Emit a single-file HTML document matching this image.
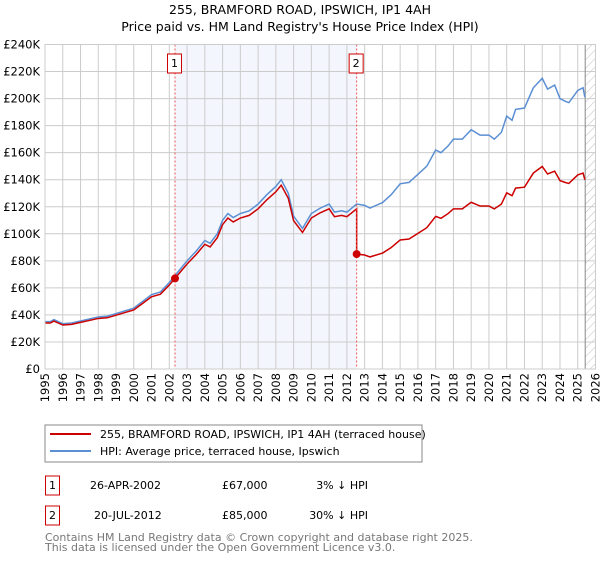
<!DOCTYPE html>
<html><head><meta charset="utf-8"><style>
body{margin:0;background:#fff;font-family:"Liberation Sans","DejaVu Sans",sans-serif;}
svg text{font-family:"DejaVu Sans","Liberation Sans",sans-serif;}
</style></head><body>
<svg id="c" width="600" height="560" xmlns="http://www.w3.org/2000/svg">
<text x="300" y="14" text-anchor="middle" font-size="12.5">255, BRAMFORD ROAD, IPSWICH, IP1 4AH</text>
<text x="300" y="31" text-anchor="middle" font-size="12.5">Price paid vs. HM Land Registry's House Price Index (HPI)</text>
<g id="plot"></g>
<rect x="45" y="425" width="377" height="37" fill="#fff" stroke="#888"/>
<line x1="50" y1="434" x2="91" y2="434" stroke="#cc0000" stroke-width="2"/>
<text x="100" y="438" font-size="11">255, BRAMFORD ROAD, IPSWICH, IP1 4AH (terraced house)</text>
<line x1="50" y1="451" x2="91" y2="451" stroke="#5b8fd4" stroke-width="2"/>
<text x="100" y="455" font-size="11">HPI: Average price, terraced house, Ipswich</text>
<rect x="45.5" y="476" width="14" height="19" fill="none" stroke="#cc0000"/>
<text x="52.5" y="489" text-anchor="middle" font-size="11">1</text>
<text x="90" y="489" font-size="11">26-APR-2002</text>
<text x="222" y="489" font-size="11">£67,000</text>
<text x="368" y="489" text-anchor="end" font-size="11">3% ↓ HPI</text>
<rect x="45.5" y="506" width="14" height="19" fill="none" stroke="#cc0000"/>
<text x="52.5" y="519" text-anchor="middle" font-size="11">2</text>
<text x="94" y="519" font-size="11">20-JUL-2012</text>
<text x="222" y="519" font-size="11">£85,000</text>
<text x="368" y="519" text-anchor="end" font-size="11">30% ↓ HPI</text>
<text x="45" y="541" font-size="11" fill="#777">Contains HM Land Registry data © Crown copyright and database right 2025.</text>
<text x="45" y="551" font-size="11" fill="#777">This data is licensed under the Open Government Licence v3.0.</text>
</svg>
<script>
const hpiYears=[1995,1995.3,1995.5,1996,1996.5,1997,1997.5,1998,1998.5,1999,1999.5,2000,2000.5,2001,2001.5,2002,2002.32,2002.5,2003,2003.5,2004,2004.3,2004.7,2005,2005.3,2005.6,2006,2006.5,2007,2007.5,2008,2008.3,2008.7,2009,2009.5,2010,2010.5,2011,2011.3,2011.7,2012,2012.55,2013,2013.3,2014,2014.5,2015,2015.5,2016,2016.5,2017,2017.3,2017.7,2018,2018.5,2019,2019.5,2020,2020.3,2020.7,2021,2021.3,2021.5,2022,2022.5,2023,2023.3,2023.7,2024,2024.3,2024.5,2025,2025.3,2025.4];
const hpiValues=[35,35,36.5,33.5,34,35.5,37,38.5,39,41,43,45,50,55,57,64,69,72,80,87,95,93,100,110,115,112,115,117,122,129,135,140,130,113,104,115,119,122,116,117,116,122,121,119,123,129,137,138,144,150,162,160,165,170,170,177,173,173,170,175,187,184,192,193,208,215,207,210,200,198,197,206,208,201];
const saleYears=[2002.32,2012.55];
const salePrices=[67,85];
const saleLabels=["1","2"];
const yTicks=[0,20,40,60,80,100,120,140,160,180,200,220,240];
const xTicks=[1995,1996,1997,1998,1999,2000,2001,2002,2003,2004,2005,2006,2007,2008,2009,2010,2011,2012,2013,2014,2015,2016,2017,2018,2019,2020,2021,2022,2023,2024,2025,2026];
const X0=45,X1=595.5,Y0=369,Y1=44.5;
const xs=y=>X0+(y-1995)/31*(X1-X0);
const ys=v=>Y0-v/240*(Y0-Y1);
const NS="http://www.w3.org/2000/svg";
const g=document.getElementById('plot');
function mk(t,a){const e=document.createElementNS(NS,t);for(const k in a)e.setAttribute(k,a[k]);g.appendChild(e);return e;}
let e=mk('rect',{x:xs(saleYears[0]),y:Y1,width:xs(saleYears[1])-xs(saleYears[0]),height:Y0-Y1,fill:'#f3f6fd'});


const hx=xs(2025.42);
e=mk('defs',{});e.innerHTML='<pattern id="h" width="6" height="6" patternUnits="userSpaceOnUse" patternTransform="rotate(45)"><line x1="0" y1="0" x2="0" y2="6" stroke="#bbb" stroke-width="1"/></pattern>';
e=mk('rect',{x:hx,y:Y1,width:X1-hx,height:Y0-Y1,fill:'url(#h)'});


yTicks.forEach(v=>{
 let l=mk('line',{x1:X0,x2:X1,y1:ys(v),y2:ys(v),stroke:'#ccc'});
 
 
 let t=mk('text',{x:X0-5,y:ys(v)+4,'text-anchor':'end','font-size':'11.5'});t.textContent=v===0?'£0':'£'+v+'K';
 
 
});
xTicks.forEach(y=>{
 let l=mk('line',{x1:xs(y),x2:xs(y),y1:Y1,y2:Y0,stroke:'#ccc'});
 
 
 let t=mk('text',{transform:`translate(${xs(y)+4},${Y0+4}) rotate(-90)`,'text-anchor':'end','font-size':'11.5'});t.textContent=y;
 
 
});
e=mk('line',{x1:hx,x2:hx,y1:Y1,y2:Y0,stroke:'#888'});


// red series: HPI scaled to each sale
function hpiAt(y){for(let i=1;i<hpiYears.length;i++){if(y<=hpiYears[i]){const a=hpiYears[i-1],b=hpiYears[i];return hpiValues[i-1]+(hpiValues[i]-hpiValues[i-1])*(y-a)/(b-a);}}return hpiValues[hpiValues.length-1];}
const r1=salePrices[0]/hpiAt(saleYears[0]),r2=salePrices[1]/hpiAt(saleYears[1]);
let rp=[];
hpiYears.forEach((y,i)=>{
 if(y<saleYears[1]) rp.push([xs(y),ys(hpiValues[i]*r1)]);
 else { if(y===saleYears[1]) rp.push([xs(y),ys(hpiValues[i]*r1)]); rp.push([xs(y),ys(hpiValues[i]*r2)]); }
});
let bp=hpiYears.map((y,i)=>[xs(y),ys(hpiValues[i])]);
e=mk('polyline',{points:bp.join(' '),fill:'none',stroke:'#5b8fd4','stroke-width':1.5});


e=mk('polyline',{points:rp.join(' '),fill:'none',stroke:'#cc0000','stroke-width':1.5});


saleYears.forEach((y,i)=>{
 let l=mk('line',{x1:xs(y),x2:xs(y),y1:Y1,y2:Y0,stroke:'#ee5555','stroke-dasharray':'2,2'});
 
 
 let c=mk('circle',{cx:xs(y),cy:ys(salePrices[i]),r:4,fill:'#cc0000'});
 
 
 let b=mk('rect',{x:xs(y)-7.5,y:54,width:14,height:19,fill:'#fff',stroke:'#cc0000'});
 
 
 let t=mk('text',{x:xs(y)-0.5,y:67,'text-anchor':'middle','font-size':'11'});t.textContent=saleLabels[i];
 
 
});
e=mk('rect',{x:X0,y:Y1,width:X1-X0,height:Y0-Y1,fill:'none',stroke:'#ccc'});


</script>
</body></html>
